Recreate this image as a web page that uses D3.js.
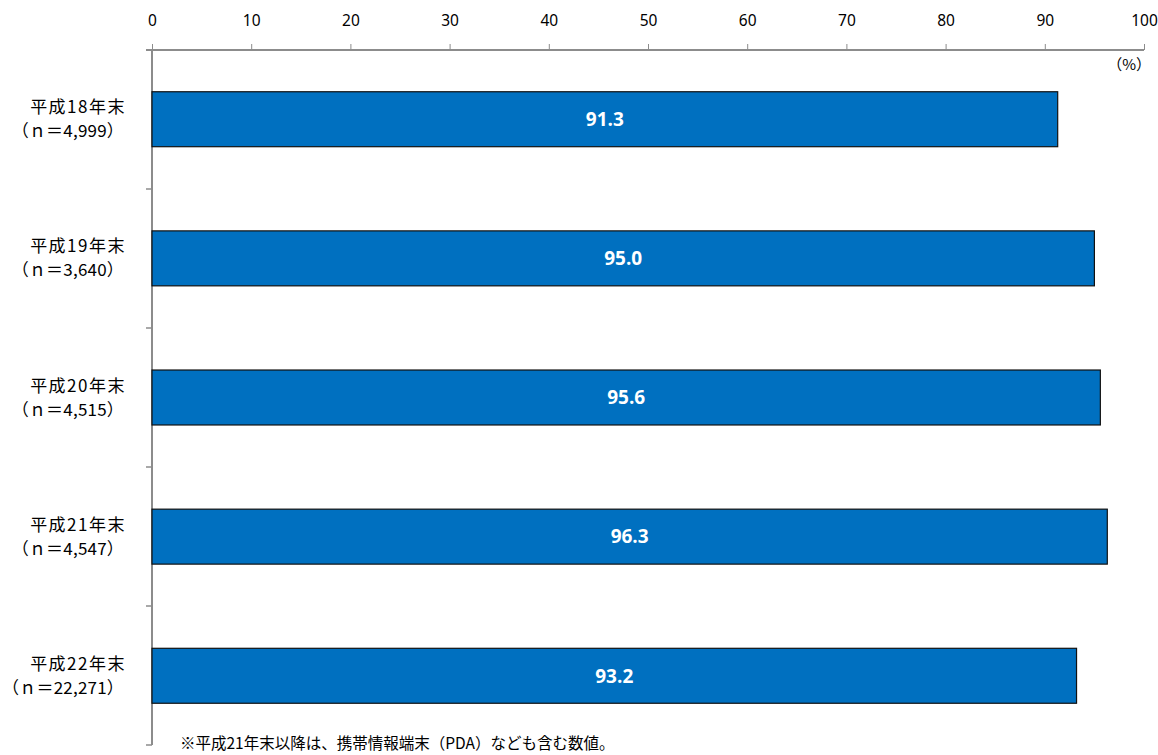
<!DOCTYPE html>
<html>
<head>
<meta charset="utf-8">
<script src="https://cdn.jsdelivr.net/npm/d3@7"></script>
<style>
  body { margin: 0; background: #fff; }
  text { font-family: "Noto Sans CJK JP", "Noto Sans", sans-serif; }
</style>
</head>
<body>
<div id="chart-area"></div>
<script>
// data
var years = ["平成18年末", "平成19年末", "平成20年末", "平成21年末", "平成22年末"];
var samples = ["（ｎ＝4,999）", "（ｎ＝3,640）", "（ｎ＝4,515）", "（ｎ＝4,547）", "（ｎ＝22,271）"];
var values = [91.3, 95.0, 95.6, 96.3, 93.2];
var xTicks = [0, 10, 20, 30, 40, 50, 60, 70, 80, 90, 100];

var margin = { left: 152, right: 14, top: 50, bottom: 10 };
var height = 745 - margin.top;

var svg = d3.select("#chart-area")
    .append("svg")
        .attr("width", 1158)
        .attr("height", 755);

var g = svg.append("g")
    .attr("transform", "translate(" + margin.left + ", " + margin.top + ")");

var x = d3.scaleLinear()
    .domain([0, 100])
    .range([0, 992]);

var y = d3.scaleBand()
    .domain(years)
    .range([0, height])
    .paddingInner(0.605)
    .paddingOuter(0.3);

// top axis
var xAxisCall = d3.axisTop(x)
    .tickValues(xTicks)
    .tickSize(6)
    .tickPadding(18);

var xAxisGroup = g.append("g")
    .attr("class", "x axis")
    .call(xAxisCall);

xAxisGroup.select(".domain")
    .attr("d", "M-6,0H" + x(100))
    .attr("stroke", "#8c8c8c")
    .attr("stroke-width", 2);
xAxisGroup.selectAll(".tick line").attr("stroke", "#8c8c8c");
xAxisGroup.selectAll(".tick text")
    .attr("font-size", "15.5px")
    .attr("fill", "#000")
    .style("font-family", "'Noto Sans', sans-serif");

// left axis with ticks between categories
var bandStep = height / years.length;
var yAxisGroup = g.append("g").attr("class", "y axis");
yAxisGroup.append("line")
    .attr("x1", 0).attr("x2", 0)
    .attr("y1", 0).attr("y2", height)
    .attr("stroke", "#8c8c8c")
    .attr("stroke-width", 2);
yAxisGroup.selectAll("line.sep")
    .data(years)
    .enter().append("line")
        .attr("class", "sep")
        .attr("x1", -6).attr("x2", 0)
        .attr("y1", function(d, i){ return (i + 1) * bandStep; })
        .attr("y2", function(d, i){ return (i + 1) * bandStep; })
        .attr("stroke", "#8c8c8c")
        .attr("stroke-width", 1.5);

// (%) unit
g.append("text")
    .attr("x", x(100) + 7)
    .attr("y", 20)
    .attr("text-anchor", "end")
    .attr("font-size", "15px")
    .text("（%）");

// Bars
g.selectAll("rect.bar")
    .data(values)
    .enter().append("rect")
        .attr("class", "bar")
        .attr("x", 0)
        .attr("y", function(d, i){ return y(years[i]); })
        .attr("width", function(d){ return x(d); })
        .attr("height", y.bandwidth())
        .attr("fill", "#0070c0")
        .attr("stroke", "#111")
        .attr("stroke-width", 1.2);

// value labels
g.selectAll("text.val")
    .data(values)
    .enter().append("text")
        .attr("class", "val")
        .attr("x", function(d){ return x(d) / 2; })
        .attr("y", function(d, i){ return y(years[i]) + y.bandwidth() / 2; })
        .attr("dy", "0.36em")
        .attr("text-anchor", "middle")
        .attr("font-size", "19px")
        .attr("font-weight", "bold")
        .attr("fill", "#fff")
        .style("font-family", "'Open Sans', 'Noto Sans', sans-serif")
        .text(function(d){ return d.toFixed(1); });

// category labels
var cat = g.selectAll("g.cat")
    .data(years)
    .enter().append("g")
        .attr("class", "cat")
        .attr("transform", function(d){ return "translate(-26," + (y(d) + y.bandwidth() / 2) + ")"; });

cat.append("text")
    .attr("y", -6)
    .attr("text-anchor", "end")
    .attr("font-size", "17px")
    .attr("letter-spacing", "1.5px")
    .text(function(d){ return d; });

cat.append("text")
    .attr("x", -2)
    .attr("y", 18)
    .attr("text-anchor", "end")
    .attr("font-size", "17px")
    .attr("letter-spacing", "0.2px")
    .text(function(d, i){ return samples[i]; });

// footnote
svg.append("text")
    .attr("x", 180)
    .attr("y", 749)
    .attr("font-size", "15.5px")
    .text("※平成21年末以降は、携帯情報端末（PDA）なども含む数値。");
</script>
</body>
</html>
